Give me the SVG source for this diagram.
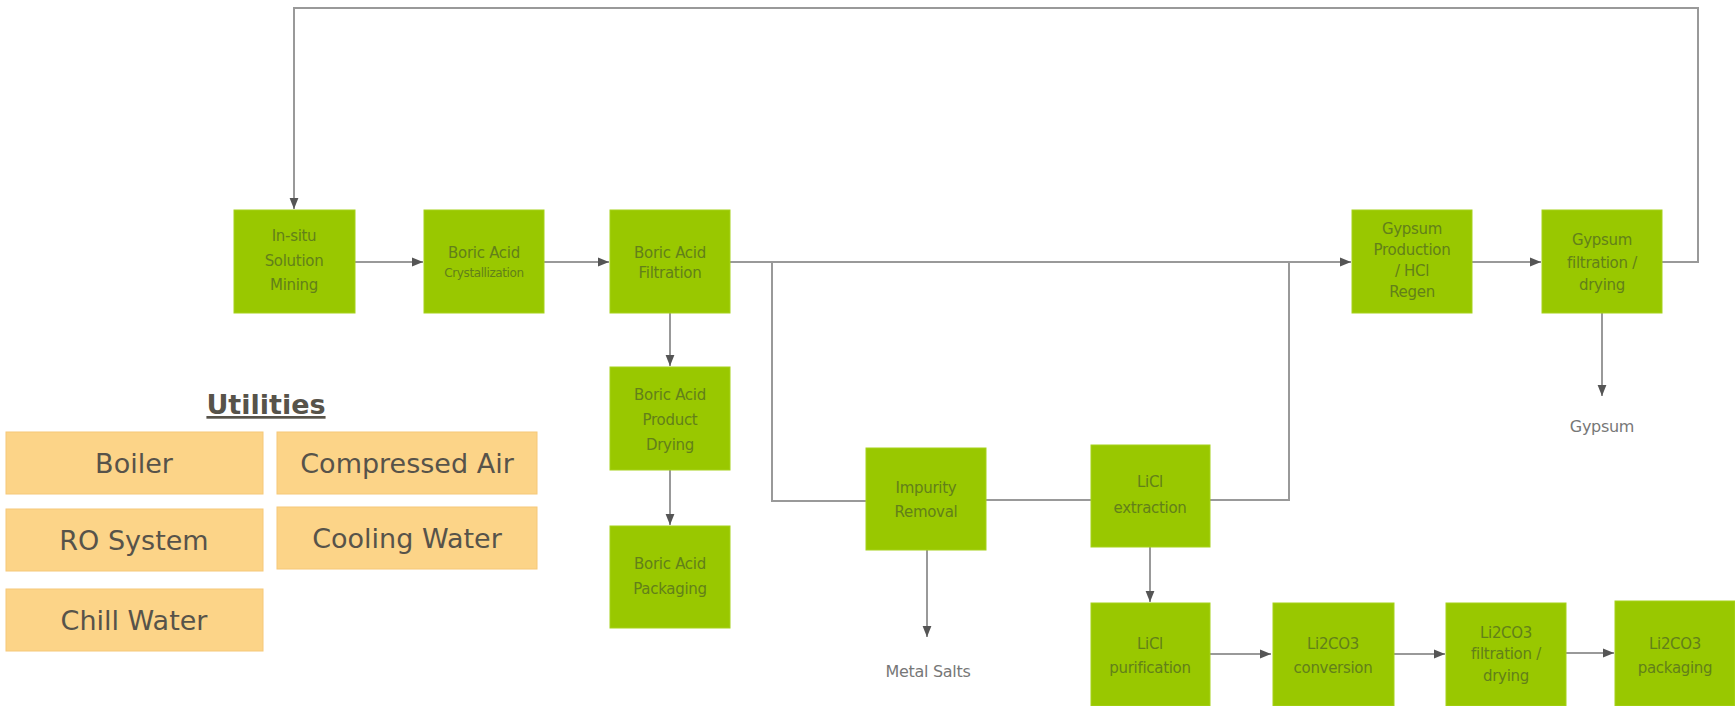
<svg xmlns="http://www.w3.org/2000/svg" width="1735" height="706" viewBox="0 0 1735 706">
<style>
.n{fill:#99c800;stroke:#a6d21a;stroke-width:1}
.t{font-family:"DejaVu Sans",Verdana,sans-serif;font-size:15px;fill:#62801a;text-anchor:middle;letter-spacing:-0.3px}
.s{font-size:12px;letter-spacing:-0.4px}
.u{fill:#fcd488;stroke:#f6c878;stroke-width:1}
.ut{font-family:"DejaVu Sans",Verdana,sans-serif;font-size:27px;fill:#57534a;text-anchor:middle}
.o{font-family:"DejaVu Sans",Verdana,sans-serif;font-size:16px;fill:#777;text-anchor:middle;letter-spacing:-0.3px}
.c{fill:none;stroke:#999;stroke-width:2}
</style>
<defs>
<marker id="ah" viewBox="0 0 10 10" refX="10" refY="5" markerWidth="11" markerHeight="11" orient="auto" markerUnits="userSpaceOnUse">
<path d="M0,1 L10,5 L0,9 z" fill="#555"/>
</marker>
</defs>
<rect width="1735" height="706" fill="#fff"/>
<g id="connectors">
<path class="c" d="M355,262 H423" marker-end="url(#ah)"/>
<path class="c" d="M544,262 H609" marker-end="url(#ah)"/>
<path class="c" d="M670,313 V366" marker-end="url(#ah)"/>
<path class="c" d="M670,470 V525" marker-end="url(#ah)"/>
<path class="c" d="M730,262 H1351" marker-end="url(#ah)"/>
<path class="c" d="M772,262 V501 H866"/>
<path class="c" d="M986,500 H1091"/>
<path class="c" d="M1210,500 H1289 V262"/>
<path class="c" d="M1150,547 V602" marker-end="url(#ah)"/>
<path class="c" d="M927,550 V637" marker-end="url(#ah)"/>
<path class="c" d="M1210,654 H1271" marker-end="url(#ah)"/>
<path class="c" d="M1394,654 H1445" marker-end="url(#ah)"/>
<path class="c" d="M1566,653 H1614" marker-end="url(#ah)"/>
<path class="c" d="M1472,262 H1541" marker-end="url(#ah)"/>
<path class="c" d="M1662,262 H1698 V8 H294 V209" marker-end="url(#ah)"/>
<path class="c" d="M1602,313 V396" marker-end="url(#ah)"/>
</g>
<g id="n-insitu"><rect class="n" x="234" y="210" width="121" height="103"/>
<text class="t" x="294" y="241">In-situ</text><text class="t" x="294" y="266">Solution</text><text class="t" x="294" y="290">Mining</text></g>
<g id="n-cryst"><rect class="n" x="424" y="210" width="120" height="103"/>
<text class="t" x="484" y="258">Boric Acid</text><text class="t s" x="484" y="277">Crystallization</text></g>
<g id="n-filt"><rect class="n" x="610" y="210" width="120" height="103"/>
<text class="t" x="670" y="258">Boric Acid</text><text class="t" x="670" y="278">Filtration</text></g>
<g id="n-dry"><rect class="n" x="610" y="367" width="120" height="103"/>
<text class="t" x="670" y="400">Boric Acid</text><text class="t" x="670" y="425">Product</text><text class="t" x="670" y="450">Drying</text></g>
<g id="n-pack"><rect class="n" x="610" y="526" width="120" height="102"/>
<text class="t" x="670" y="569">Boric Acid</text><text class="t" x="670" y="594">Packaging</text></g>
<g id="n-impurity"><rect class="n" x="866" y="448" width="120" height="102"/>
<text class="t" x="926" y="493">Impurity</text><text class="t" x="926" y="517">Removal</text></g>
<g id="n-licl-ext"><rect class="n" x="1091" y="445" width="119" height="102"/>
<text class="t" x="1150" y="487">LiCl</text><text class="t" x="1150" y="513">extraction</text></g>
<g id="n-licl-pur"><rect class="n" x="1091" y="603" width="119" height="103"/>
<text class="t" x="1150" y="649">LiCl</text><text class="t" x="1150" y="673">purification</text></g>
<g id="n-li2co3-conv"><rect class="n" x="1273" y="603" width="121" height="103"/>
<text class="t" x="1333" y="649">Li2CO3</text><text class="t" x="1333" y="673">conversion</text></g>
<g id="n-li2co3-filt"><rect class="n" x="1446" y="603" width="120" height="103"/>
<text class="t" x="1506" y="638">Li2CO3</text><text class="t" x="1506" y="659">filtration /</text><text class="t" x="1506" y="681">drying</text></g>
<g id="n-li2co3-pack"><rect class="n" x="1615" y="601" width="120" height="105"/>
<text class="t" x="1675" y="649">Li2CO3</text><text class="t" x="1675" y="673">packaging</text></g>
<g id="n-gyp-prod"><rect class="n" x="1352" y="210" width="120" height="103"/>
<text class="t" x="1412" y="234">Gypsum</text><text class="t" x="1412" y="255">Production</text><text class="t" x="1412" y="276">/ HCl</text><text class="t" x="1412" y="297">Regen</text></g>
<g id="n-gyp-filt"><rect class="n" x="1542" y="210" width="120" height="103"/>
<text class="t" x="1602" y="245">Gypsum</text><text class="t" x="1602" y="268">filtration /</text><text class="t" x="1602" y="290">drying</text></g>
<g id="out-metal"><text class="o" x="928" y="677">Metal Salts</text></g>
<g id="out-gypsum"><text class="o" x="1602" y="432">Gypsum</text></g>
<g id="utilities">
<text class="ut" x="266" y="414" font-size="29" font-weight="bold" text-decoration="underline">Utilities</text>
<g id="u-boiler"><rect class="u" x="6" y="432" width="257" height="62"/><text class="ut" x="134" y="473">Boiler</text></g>
<g id="u-air"><rect class="u" x="277" y="432" width="260" height="62"/><text class="ut" x="407" y="473">Compressed Air</text></g>
<g id="u-ro"><rect class="u" x="6" y="509" width="257" height="62"/><text class="ut" x="134" y="550">RO System</text></g>
<g id="u-cw"><rect class="u" x="277" y="507" width="260" height="62"/><text class="ut" x="407" y="548">Cooling Water</text></g>
<g id="u-chill"><rect class="u" x="6" y="589" width="257" height="62"/><text class="ut" x="134" y="630">Chill Water</text></g>
</g>
</svg>
